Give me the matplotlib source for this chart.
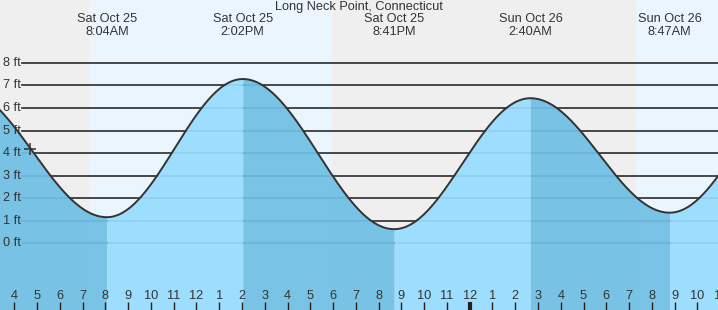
import numpy as np
import matplotlib
matplotlib.use("Agg")
import matplotlib.pyplot as plt

# ---- data (hours since Sat Oct 25 00:00) ----
title = "Long Neck Point, Connecticut"
extreme_times = [1.6, 8.067, 14.033, 20.683, 26.667, 32.783, 38.9]
extreme_heights = [6.9, 1.16, 7.28, 0.63, 6.43, 1.36, 7.4]
event_days = ["Sat Oct 25", "Sat Oct 25", "Sat Oct 25", "Sun Oct 26", "Sun Oct 26"]
event_clock = ["8:04AM", "2:02PM", "8:41PM", "2:40AM", "8:47AM"]
day_spans = [(7.28, 17.95), (31.29, 40.0)]
ft_levels = [0, 1, 2, 3, 4, 5, 6, 7, 8]
hour_ticks = list(range(4, 36))
now_time, now_height = 4.69, 4.17

W, H = 718, 310
X0, X1 = 3.372, 34.905
Y0, Y1 = -2.95, 10.78
FS = 9.2

plt.rcParams['font.family'] = ['Liberation Sans', 'DejaVu Sans']
fig = plt.figure(figsize=(W / 100, H / 100), dpi=100)
ax = fig.add_axes([0, 0, 1, 1])
ax.set_xlim(X0, X1)
ax.set_ylim(Y0, Y1)
ax.axis('off')

# background: night gray, day light blue
ax.add_patch(plt.Rectangle((0, 0), 1, 1, transform=ax.transAxes, color='#efefef', zorder=0))
for a, b in day_spans:
    ax.axvspan(a, b, color='#eaf5fe', zorder=0.5, lw=0)

# grid lines
for lv in ft_levels:
    ax.axhline(lv, xmin=22 / W, xmax=1, color='#2b2b2b', lw=1.2, zorder=1)
    ax.text(3 / W, lv, f"{lv} ft", transform=ax.get_yaxis_transform(),
            ha='left', va='center', fontsize=FS, color='#333333', zorder=4)

# tide curve (cosine between successive extremes)
t_list, h_list = [], []
for i in range(len(extreme_times) - 1):
    ta, tb = extreme_times[i], extreme_times[i + 1]
    ha_, hb = extreme_heights[i], extreme_heights[i + 1]
    tt = np.linspace(ta, tb, 200)
    ph = (tt - ta) / (tb - ta)
    hh = hb + (ha_ - hb) * (1 + np.cos(np.pi * ph)) / 2
    t_list.append(tt)
    h_list.append(hh)

for i, (tt, hh) in enumerate(zip(t_list, h_list)):
    falling = extreme_heights[i] > extreme_heights[i + 1]
    col = '#6fc0e5' if falling else '#97dcff'
    ax.fill_between(tt, Y0, hh, color=col, alpha=0.93, lw=0, zorder=2)

tt_all = np.concatenate(t_list)
hh_all = np.concatenate(h_list)
ax.plot(tt_all, hh_all, color='#333333', lw=1.4, zorder=3)

# current time marker
ax.plot([now_time], [now_height], marker='+', ms=9, mew=1.1, color='#333333', zorder=5)

# title and event labels
ax.text(0.5, 1 - 7 / H, title, transform=ax.transAxes, ha='center', va='center',
        fontsize=FS, color='#333333')
for t, d, c in zip(extreme_times[1:-1], event_days, event_clock):
    ax.text(t, 1 - 19.5 / H, d, transform=ax.get_xaxis_transform(), ha='center', va='center',
            fontsize=FS, color='#333333')
    ax.text(t, 1 - 32 / H, c, transform=ax.get_xaxis_transform(), ha='center', va='center',
            fontsize=FS, color='#333333')

# hour ticks
for h in hour_ticks:
    lab = h % 12
    if lab == 0:
        lab = 12
    lw = 3 if h % 24 == 0 else 1
    ax.plot([h, h], [0, 8 / H], transform=ax.get_xaxis_transform(), color='#222222',
            lw=lw, zorder=6, solid_capstyle='butt')
    ax.text(h, (H - 296) / H, str(lab), transform=ax.get_xaxis_transform(),
            ha='center', va='center', fontsize=FS, color='#333333', zorder=6)

fig.savefig('out.png', dpi=100)
